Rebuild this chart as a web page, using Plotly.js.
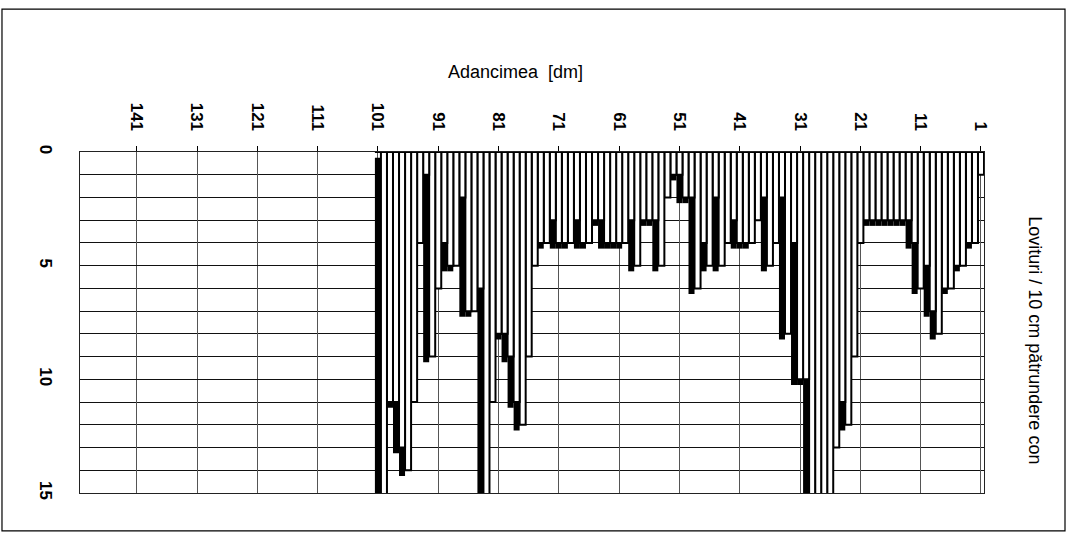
<!DOCTYPE html>
<html>
<head>
<meta charset="utf-8">
<script src="https://cdn.plot.ly/plotly-3.0.1.min.js"></script>
<style>
  html, body { margin: 0; padding: 0; background: #fff; }
  #chart { width: 1067px; height: 533px; }
</style>
</head>
<body>
<div id="chart"></div>
<script>
// Depth categories [dm]
const depth = [1,2,3,4,5,6,7,8,9,10,11,12,13,14,15,16,17,18,19,20,
  21,22,23,24,25,26,27,28,29,30,31,32,33,34,35,36,37,38,39,40,
  41,42,43,44,45,46,47,48,49,50,51,52,53,54,55,56,57,58,59,60,
  61,62,63,64,65,66,67,68,69,70,71,72,73,74,75,76,77,78,79,80,
  81,82,83,84,85,86,87,88,89,90,91,92,93,94,95,96,97,98,99,100,101];

// Blows per 10 cm cone penetration (values above 15 are off-scale)
const blows = [1,4,4,5,5,6,6,8,7,5, 6,4,3,3,3,3,3,3,3,3,
  4,9,12,11,13,16,16,16,16,10, 10,4,8,2,4,5,2,3,4,4,
  4,3,4,5,2,5,4,6,2,2, 1,1,2,5,3,3,3,5,3,4,
  4,4,4,3,3,4,4,3,4,4, 4,3,4,4,5,9,12,11,9,8,
  8,11,16,6,7,7,2,5,5,4, 6,9,1,4,11,14,13,11,11,16, 0];

// Axis tick labels
const depthTicks = [1,11,21,31,41,51,61,71,81,91,101,111,121,131,141];
const depthTickText = ['1','11','21','31','41','51','61','71','81','91','101','111','121','131','141'];
const blowTicks = [0,5,10,15];
const blowTickText = ['0','5','10','15'];

const FONT = 'Liberation Sans, Arial, sans-serif';

const shadow = {
  type: 'bar', x: depth, y: blows,
  base: 0.25, offset: 0.5, width: 1,
  marker: { color: '#000', line: { width: 0 } },
  hoverinfo: 'skip', showlegend: false
};

const bars = {
  type: 'bar', x: depth, y: blows,
  offset: -0.5, width: 1,
  marker: { color: '#fff', line: { color: '#000', width: 2 } },
  showlegend: false
};

const layout = {
  width: 1067, height: 533,
  margin: { l: 80, r: 83, t: 152, b: 40, pad: 0 },
  paper_bgcolor: '#fff', plot_bgcolor: '#fff',
  barmode: 'overlay',
  showlegend: false,
  font: { family: FONT, color: '#000', size: 17 },
  xaxis: {
    side: 'top',
    range: [150.4, 0.5], autorange: false,
    tickmode: 'array', tickvals: depthTicks, ticktext: depthTickText,
    tickangle: 90,
    ticks: 'outside', ticklen: 5, tickcolor: '#000', tickwidth: 1,
    ticklabelstandoff: 9,
    tickfont: { family: FONT, size: 17, color: '#000', weight: 'bold' },
    showgrid: true, gridcolor: '#555', gridwidth: 1,
    zeroline: false,
    showline: true, linecolor: '#222', linewidth: 1, mirror: true
  },
  yaxis: {
    range: [15, 0], autorange: false,
    tickmode: 'array', tickvals: blowTicks, ticktext: blowTickText,
    tickangle: 90,
    ticks: '',
    ticklabelstandoff: 19,
    tickfont: { family: FONT, size: 17, color: '#000', weight: 'bold' },
    showgrid: true, gridcolor: '#111', gridwidth: 1,
    minor: { dtick: 1, tick0: 0, showgrid: true, gridcolor: '#111', gridwidth: 1, ticks: '' },
    zeroline: false,
    showline: true, linecolor: '#222', linewidth: 1, mirror: true
  },
  annotations: [
    { text: 'Adancimea\u00a0 [dm]', xref: 'paper', yref: 'paper',
      x: 0.482, y: 1.235, xanchor: 'center', yanchor: 'middle', showarrow: false,
      font: { family: FONT, size: 18, color: '#000' } },
    { text: 'Lovituri / 10 cm pătrundere con', xref: 'paper', yref: 'paper',
      x: 1.056, y: 0.449, xanchor: 'center', yanchor: 'middle', showarrow: false,
      textangle: 90,
      font: { family: FONT, size: 18, color: '#000' } }
  ],
  shapes: [
    { type: 'rect', xref: 'paper', yref: 'paper',
      x0: -0.0863, x1: 1.0896, y0: -0.111, y1: 1.419,
      line: { color: '#000', width: 1.2 }, fillcolor: 'rgba(0,0,0,0)', layer: 'below' }
  ]
};

Plotly.newPlot('chart', [shadow, bars], layout, { displayModeBar: false, staticPlot: true });
</script>
</body>
</html>
